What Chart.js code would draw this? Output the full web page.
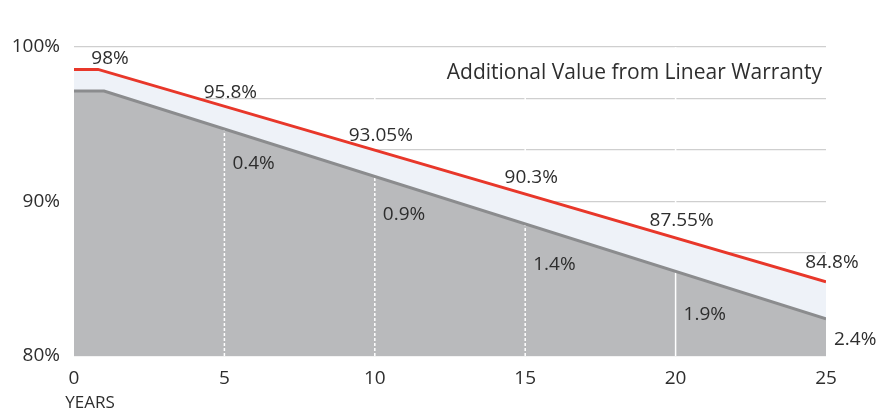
<!DOCTYPE html>
<html>
<head>
<meta charset="utf-8">
<script src="https://cdn.jsdelivr.net/npm/chart.js@4.4.1/dist/chart.umd.min.js"></script>
<style>
  html, body { margin: 0; padding: 0; background: #fff; }
  #wrap { width: 878px; height: 410px; }
</style>
</head>
<body>
<div id="wrap"><canvas id="chart"></canvas></div>
<script>
// Year ticks along the bottom
const xTicks = [0, 5, 10, 15, 20, 25];
// Horizontal grid lines (every third of 10%), only three of them labelled
const yGrid = [80, 83.333, 86.667, 90, 93.333, 96.667, 100];
const yLabelled = [80, 90, 100];

// Linear warranty (red line), as drawn
const linearYears = [0, 0.8, 25];
const linearValues = [98.55, 98.55, 84.8];
// Standard warranty (gray area), as drawn
const standardYears = [0, 1, 25];
const standardValues = [97.15, 97.15, 82.4];

// Values printed along the red line
const linearLabelYears = [1, 5, 10, 15, 20, 25];
const linearLabelValues = [98, 95.8, 93.05, 90.3, 87.55, 84.8];
// Extra value of the linear warranty at each marker year
const extraYears = [5, 10, 15, 20, 25];
const extraValues = [0.4, 0.9, 1.4, 1.9, 2.4];

// White marker lines inside the gray area
const dashedMarkerYears = [5, 10, 15];
const solidMarkerYears = [20];

const annotationText = "Additional Value from Linear Warranty";
const xAxisTitle = "YEARS";

const FONT = "'Open Sans', sans-serif";
const TEXT_COLOR = "#2e2e2e";
const RED = "#e8372a";
const GRAY_LINE = "#8b8c8e";
const GRAY_FILL = "#b9babc";
const BAND_FILL = "#eef2f8";

const toPoints = (xs, ys) => xs.map((x, i) => ({ x, y: ys[i] }));
// one vertical segment per year, separated by gaps
const markerPoints = (years) =>
  years.flatMap((yr) => [{ x: yr, y: 80 }, { x: yr, y: 100 }, { x: yr, y: null }]);

// Free text: value labels, annotation and axis title
const textPlugin = {
  id: "texts",
  afterDraw(chart) {
    const { ctx, chartArea } = chart;
    const { x, y } = chart.scales;
    ctx.save();
    ctx.fillStyle = TEXT_COLOR;
    ctx.textBaseline = "middle";

    ctx.font = `19px ${FONT}`;
    ctx.textAlign = "center";
    linearLabelYears.forEach((yr, i) => {
      const v = linearLabelValues[i];
      ctx.fillText(v + "%", x.getPixelForValue(yr) + 6, y.getPixelForValue(v) - 19);
    });

    ctx.textAlign = "left";
    extraYears.forEach((yr, i) => {
      const base = linearLabelValues[linearLabelYears.indexOf(yr)] - extraValues[i];
      const dy = i === extraYears.length - 1 ? 21 : 46;
      ctx.fillText(extraValues[i] + "%", x.getPixelForValue(yr) + 8, y.getPixelForValue(base) + dy);
    });

    ctx.font = `21px ${FONT}`;
    ctx.textAlign = "right";
    ctx.fillText(annotationText, chartArea.right - 4, chartArea.top + 26);

    ctx.font = `17px ${FONT}`;
    ctx.textAlign = "center";
    ctx.fillText(xAxisTitle, chartArea.left + 16, chart.height - 7);
    ctx.restore();
  },
};

new Chart(document.getElementById("chart"), {
  type: "line",
  data: {
    datasets: [
      {
        // gray area under the standard warranty
        data: toPoints(standardYears, standardValues),
        borderWidth: 0,
        pointRadius: 0,
        fill: "start",
        backgroundColor: GRAY_FILL,
        order: 5,
      },
      {
        data: markerPoints(dashedMarkerYears),
        borderColor: "#ffffff",
        borderWidth: 1.5,
        borderDash: [3, 2],
        pointRadius: 0,
        fill: false,
        order: 4,
      },
      {
        data: markerPoints(solidMarkerYears),
        borderColor: "#ffffff",
        borderWidth: 1.5,
        pointRadius: 0,
        fill: false,
        order: 4,
      },
      {
        // red linear warranty, band down to the gray area
        data: toPoints(linearYears, linearValues),
        borderColor: RED,
        borderWidth: 3,
        pointRadius: 0,
        fill: { target: 0 },
        backgroundColor: BAND_FILL,
        order: 2,
      },
      {
        // gray standard warranty stroke
        data: toPoints(standardYears, standardValues),
        borderColor: GRAY_LINE,
        borderWidth: 3,
        pointRadius: 0,
        fill: false,
        order: 1,
      },
    ],
  },
  options: {
    responsive: true,
    maintainAspectRatio: false,
    animation: false,
    events: [],
    layout: { padding: { top: 47, right: 52, left: 0, bottom: 0 } },
    plugins: { legend: { display: false }, tooltip: { enabled: false } },
    scales: {
      x: {
        type: "linear",
        min: 0,
        max: 25,
        afterBuildTicks: (s) => { s.ticks = xTicks.map((value) => ({ value })); },
        afterFit: (s) => { s.height = 54; },
        grid: { display: false },
        border: { display: false },
        ticks: { color: TEXT_COLOR, font: { family: FONT, size: 19 }, padding: 3, maxRotation: 0, autoSkip: false },
      },
      y: {
        min: 80,
        max: 100,
        z: 1,
        afterBuildTicks: (s) => { s.ticks = yGrid.map((value) => ({ value })); },
        afterFit: (s) => { s.width = 74; },
        grid: { color: "rgba(0,0,0,0.19)", lineWidth: 1.3, drawTicks: false },
        border: { display: false },
        ticks: {
          color: TEXT_COLOR,
          font: { family: FONT, size: 19 },
          padding: 14,
          autoSkip: false,
          callback: (v) => (yLabelled.includes(v) ? v + "%" : ""),
        },
      },
    },
  },
  plugins: [textPlugin],
});
</script>
</body>
</html>
